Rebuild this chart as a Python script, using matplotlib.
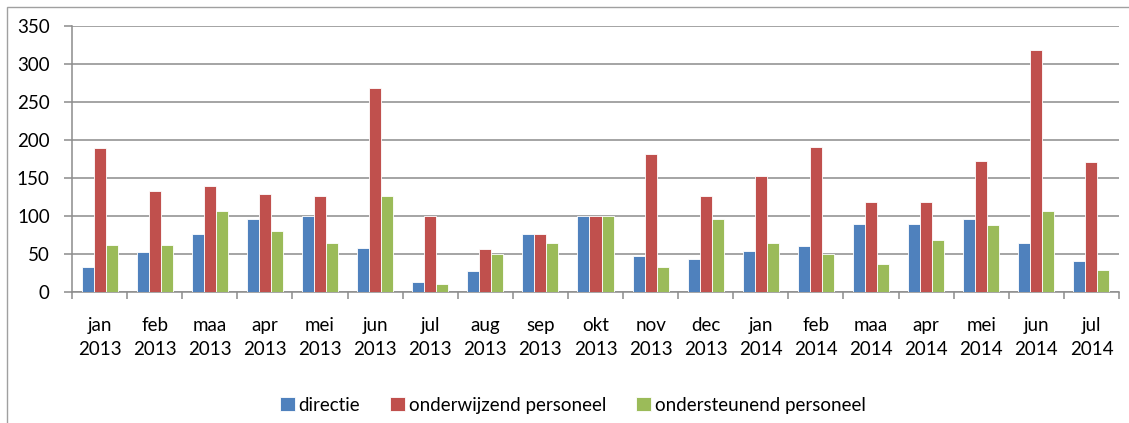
import numpy as np
import matplotlib.pyplot as plt
from matplotlib.patches import Rectangle

# Data
months = ['jan', 'feb', 'maa', 'apr', 'mei', 'jun', 'jul', 'aug', 'sep', 'okt',
          'nov', 'dec', 'jan', 'feb', 'maa', 'apr', 'mei', 'jun', 'jul']
years = ['2013'] * 12 + ['2014'] * 7
directie = [33, 52, 76, 96, 100, 58, 13, 27, 76, 100, 48, 43, 54, 61, 90, 90, 96, 65, 41]
onderwijzend = [189, 133, 140, 129, 126, 268, 100, 56, 76, 100, 181, 126, 153, 191, 118, 118, 173, 318, 171]
ondersteunend = [62, 62, 106, 80, 64, 126, 11, 50, 64, 100, 33, 96, 64, 50, 37, 68, 88, 106, 29]

series_names = ['directie', 'onderwijzend personeel', 'ondersteunend personeel']
colors = ['#4F81BD', '#C0504D', '#9BBB59']

plt.rcParams['font.family'] = ['Lato', 'DejaVu Sans']

fig = plt.figure(figsize=(11.29, 4.23), dpi=100)
ax = fig.add_axes([72 / 1129, 1 - 292 / 423, (1119 - 72) / 1129, (292 - 26) / 423])

x = np.arange(len(months))
w = 0.218
for i, (vals, name, c) in enumerate(zip([directie, onderwijzend, ondersteunend], series_names, colors)):
    ax.bar(x + (i - 1) * w, vals, width=w, color=c, edgecolor='white', linewidth=0.6,
           label=name, zorder=3)

ax.set_xlim(-0.5, len(months) - 0.5)
ax.set_ylim(0, 350)
ax.set_yticks(np.arange(0, 351, 50))
ax.yaxis.grid(True, color='#8c8c8c', linewidth=1.1, zorder=0)
ax.set_axisbelow(True)

ax.set_xticks(x)
ax.set_xticklabels([m + '\n' + y for m, y in zip(months, years)], fontsize=13.5, linespacing=1.5)
ax.set_xticks(np.arange(-0.5, len(months)), minor=True)
ax.tick_params(axis='x', which='major', length=0, pad=18)
ax.tick_params(axis='x', which='minor', length=5, color='#8c8c8c', width=1.1)
ax.tick_params(axis='y', length=6, color='#8c8c8c', width=1.1, labelsize=13.5, pad=10)

for s in ['top', 'right']:
    ax.spines[s].set_visible(False)
for s in ['left', 'bottom']:
    ax.spines[s].set_color('#8c8c8c')
    ax.spines[s].set_linewidth(1.1)

leg = fig.legend(loc='center', bbox_to_anchor=(573 / 1129, 1 - 405 / 423), ncol=3,
                 frameon=False, fontsize=13.5, handlelength=0.8, handleheight=0.8,
                 handletextpad=0.2, columnspacing=1.6)

# outer chart border
fig.patches.append(Rectangle((7 / 1129, -0.1), 1.2, 1 - 7 / 423 + 0.1, transform=fig.transFigure,
                             fill=False, edgecolor='#a0a0a0', linewidth=1.0))

fig.savefig('out.png', dpi=100)
